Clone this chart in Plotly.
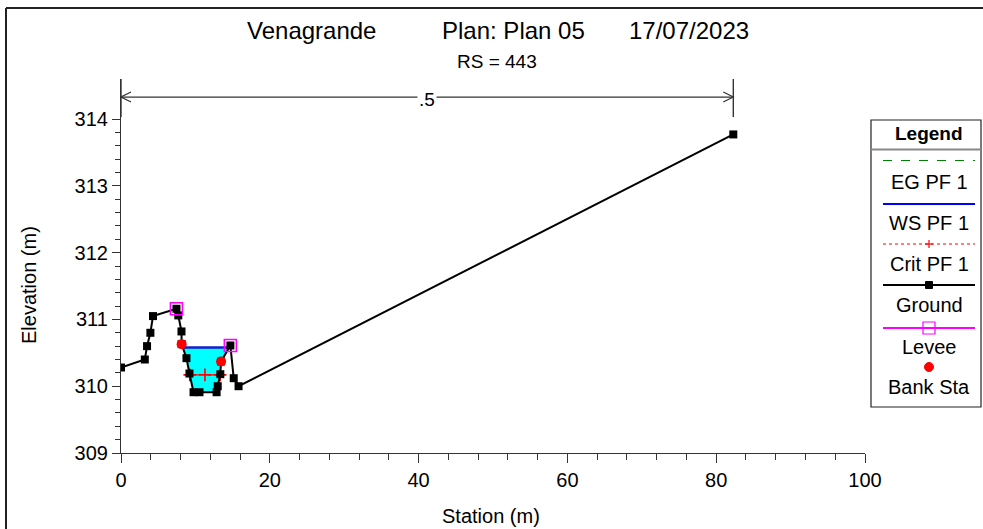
import plotly.graph_objects as go

# ---- cross-section data -------------------------------------------------
station = [0, 3.2, 3.5, 3.95, 4.3, 7.45, 7.7, 8.13, 8.15, 8.8, 9.2, 9.75,
           10.55, 12.85, 13.0, 13.35, 13.45, 14.7, 15.15, 15.8, 82.3]
elevation = [310.28, 310.40, 310.60, 310.80, 311.05, 311.16, 311.06, 310.82,
             310.63, 310.42, 310.19, 309.91, 309.91, 309.91, 310.00, 310.18,
             310.37, 310.61, 310.12, 310.00, 313.77]

levee_sta = [7.45, 14.7]
levee_elev = [311.16, 310.61]

bank_sta = [8.15, 13.45]
bank_elev = [310.63, 310.37]

ws_elev = 310.58      # WS PF 1
crit_elev = 310.17    # Crit PF 1
mannings_n = ".5"

x_ticks = [0, 20, 40, 60, 80, 100]
y_ticks = [309, 310, 311, 312, 313, 314]

# ---- page geometry --------------------------------------------------------
W_FIG, H_FIG = 983, 529
ML, MR, MT, MB = 121, 118, 79, 76
PW, PH = W_FIG - ML - MR, H_FIG - MT - MB
Y_MIN, Y_MAX = 309, 314.6
FONT = "Liberation Sans, Arial, sans-serif"


def px(x):
    return (x - ML) / PW


def py(y):
    return (H_FIG - MB - y) / PH


def crossings(level):
    """Left/right stations where the ground crosses `level` around the thalweg."""
    i_min = min(range(len(elevation)), key=lambda i: elevation[i])
    i = i_min
    while elevation[i - 1] < level:
        i -= 1
    x0, y0, x1, y1 = station[i - 1], elevation[i - 1], station[i], elevation[i]
    left = x0 + (level - y0) * (x1 - x0) / (y1 - y0)
    il = i
    j = i_min
    while elevation[j + 1] < level:
        j += 1
    x0, y0, x1, y1 = station[j], elevation[j], station[j + 1], elevation[j + 1]
    right = x0 + (level - y0) * (x1 - x0) / (y1 - y0)
    return left, right, il, j


def label(text, x, y, size=20, **kw):
    return dict(x=px(x), y=py(y), xref="paper", yref="paper", text=text,
                showarrow=False, xanchor="center", yanchor="middle",
                font=dict(family=FONT, size=size, color="black"), **kw)


fig = go.Figure()

# water area below the water surface
wl, wr, il, ir = crossings(ws_elev)
poly_x = [wl] + station[il:ir + 1] + [wr]
poly_y = [ws_elev] + elevation[il:ir + 1] + [ws_elev]
fig.add_trace(go.Scatter(x=poly_x, y=poly_y, mode="lines", fill="toself",
                         fillcolor="#00FFFF", line=dict(width=0),
                         hoverinfo="skip", showlegend=False))

# water surface
fig.add_trace(go.Scatter(x=[wl, wr], y=[ws_elev, ws_elev], mode="lines",
                         line=dict(color="#1a1ad0", width=2.5), showlegend=False))

# critical depth
cl, cr, _, _ = crossings(crit_elev)
fig.add_trace(go.Scatter(x=[cl, (cl + cr) / 2, cr], y=[crit_elev] * 3,
                         mode="lines+markers",
                         line=dict(color="red", width=1.2, dash="dash"),
                         marker=dict(symbol="cross-thin", size=9, color="red",
                                     line=dict(color="red", width=1.6)),
                         showlegend=False))

# ground
fig.add_trace(go.Scatter(x=station, y=elevation, mode="lines+markers",
                         line=dict(color="black", width=2),
                         marker=dict(symbol="square", size=8, color="black"),
                         showlegend=False))

# levees
fig.add_trace(go.Scatter(x=levee_sta, y=levee_elev, mode="markers",
                         marker=dict(symbol="square-open", size=12, color="#ff00ff",
                                     line=dict(color="#ff00ff", width=1.6)),
                         showlegend=False))

# bank stations
fig.add_trace(go.Scatter(x=bank_sta, y=bank_elev, mode="markers",
                         marker=dict(symbol="circle", size=10, color="red"),
                         showlegend=False))

shapes = []
annotations = []

# Manning's n extent bar
n_y = 314.33
n_left, n_right = station[0], station[-1]
shapes.append(dict(type="line", xref="x", yref="y", x0=n_left, x1=n_right,
                   y0=n_y, y1=n_y, line=dict(color="#333", width=1.2)))
for xe in (n_left, n_right):
    shapes.append(dict(type="line", xref="x", yref="y", x0=xe, x1=xe,
                       y0=314.03, y1=Y_MAX, line=dict(color="#333", width=1.4)))
ah_dx, ah_dy = 1.35, 0.075
shapes.append(dict(type="path", xref="x", yref="y",
                   path=f"M{n_left + ah_dx},{n_y + ah_dy} L{n_left},{n_y} L{n_left + ah_dx},{n_y - ah_dy}",
                   line=dict(color="#333", width=1.2)))
shapes.append(dict(type="path", xref="x", yref="y",
                   path=f"M{n_right - ah_dx},{n_y + ah_dy} L{n_right},{n_y} L{n_right - ah_dx},{n_y - ah_dy}",
                   line=dict(color="#333", width=1.2)))
annotations.append(dict(x=(n_left + n_right) / 2, y=n_y, xref="x", yref="y",
                        text=mannings_n, showarrow=False, bgcolor="white",
                        xanchor="center", yanchor="middle",
                        font=dict(family=FONT, size=19, color="black"),
                        yshift=-2))

# outer frame
shapes.append(dict(type="line", xref="paper", yref="paper", x0=px(6), x1=px(6),
                   y0=py(8), y1=py(H_FIG + 2), line=dict(color="#222", width=2)))
shapes.append(dict(type="line", xref="paper", yref="paper", x0=px(6), x1=px(W_FIG + 2),
                   y0=py(8), y1=py(8), line=dict(color="#222", width=2)))

# titles
for text, cx in (("Venagrande", 311.5), ("Plan: Plan 05", 513.5), ("17/07/2023", 688.5)):
    annotations.append(label(text, cx, 31, size=24))
annotations.append(label("RS = 443", 497, 61, size=19))

# axis titles
annotations.append(label("Station (m)", 491, 516))
annotations.append(label("Elevation (m)", 29, 285, textangle=-90))

# legend box
LX0, LX1, LY0, LY1 = 871, 981, 120, 407
LCX = 929
shapes.append(dict(type="rect", xref="paper", yref="paper",
                   x0=px(LX0), x1=px(LX1), y0=py(LY0), y1=py(LY1),
                   line=dict(color="#222", width=1.2), fillcolor="white", layer="below"))
shapes.append(dict(type="line", xref="paper", yref="paper",
                   x0=px(LX0), x1=px(LX1), y0=py(149.5), y1=py(149.5),
                   line=dict(color="#888", width=2)))
annotations.append(label("<b>Legend</b>", LCX, 133, size=19))

SX0, SX1 = 883, 975
legend_items = [
    ("EG PF 1", 160.5, 182, dict(color="green", width=1.2, dash="dash")),
    ("WS PF 1", 204, 223, dict(color="blue", width=2)),
    ("Crit PF 1", 244, 264, dict(color="red", width=1, dash="dot")),
    ("Ground", 285, 305, dict(color="black", width=2)),
    ("Levee", 328, 347, dict(color="#ff00ff", width=2)),
]
for text, ly, ty, ln in legend_items:
    shapes.append(dict(type="line", xref="paper", yref="paper",
                       x0=px(SX0), x1=px(SX1), y0=py(ly), y1=py(ly), line=ln))
    annotations.append(label(text, LCX, ty))

# legend symbols
shapes.append(dict(type="line", xref="paper", yref="paper", x0=px(LCX), x1=px(LCX),
                   y0=py(240), y1=py(248), line=dict(color="red", width=1.2)))
shapes.append(dict(type="line", xref="paper", yref="paper", x0=px(LCX - 4), x1=px(LCX + 4),
                   y0=py(244), y1=py(244), line=dict(color="red", width=1.2)))
shapes.append(dict(type="rect", xref="paper", yref="paper", x0=px(LCX - 3.5), x1=px(LCX + 3.5),
                   y0=py(281.5), y1=py(288.5), line=dict(color="black", width=1),
                   fillcolor="black"))
shapes.append(dict(type="rect", xref="paper", yref="paper", x0=px(LCX - 6), x1=px(LCX + 6),
                   y0=py(322), y1=py(334), line=dict(color="#ff00ff", width=1.2),
                   fillcolor="rgba(0,0,0,0)"))
shapes.append(dict(type="circle", xref="paper", yref="paper", x0=px(LCX - 4.5), x1=px(LCX + 4.5),
                   y0=py(362.5), y1=py(371.5), line=dict(color="red", width=1),
                   fillcolor="red"))
annotations.append(label("Bank Sta", LCX, 387))

fig.update_layout(
    width=W_FIG, height=H_FIG, autosize=False,
    margin=dict(l=ML, r=MR, t=MT, b=MB, pad=0),
    paper_bgcolor="white", plot_bgcolor="white",
    showlegend=False,
    shapes=shapes, annotations=annotations,
    font=dict(family=FONT, size=20, color="black"),
)
fig.update_xaxes(range=[0, 100], tickvals=x_ticks, ticktext=[str(v) for v in x_ticks],
                 showgrid=False, zeroline=False, showline=True, linecolor="#333",
                 linewidth=1.2, ticks="outside", ticklen=9, tickcolor="#333",
                 tickfont=dict(family=FONT, size=20, color="black"),
                 minor=dict(dtick=4, ticks="outside", ticklen=6, tickcolor="#333"))
fig.update_yaxes(range=[Y_MIN, Y_MAX], tickvals=y_ticks, ticktext=[str(v) for v in y_ticks],
                 showgrid=False, zeroline=False, showline=True, linecolor="#333",
                 linewidth=1.2, ticks="outside", ticklen=8, tickcolor="#333",
                 tickfont=dict(family=FONT, size=20, color="black"),
                 minor=dict(tickvals=[round(309 + 0.2 * k, 1) for k in range(26)],
                            ticks="outside", ticklen=5, tickcolor="#333"))

fig.write_html("out.html")
